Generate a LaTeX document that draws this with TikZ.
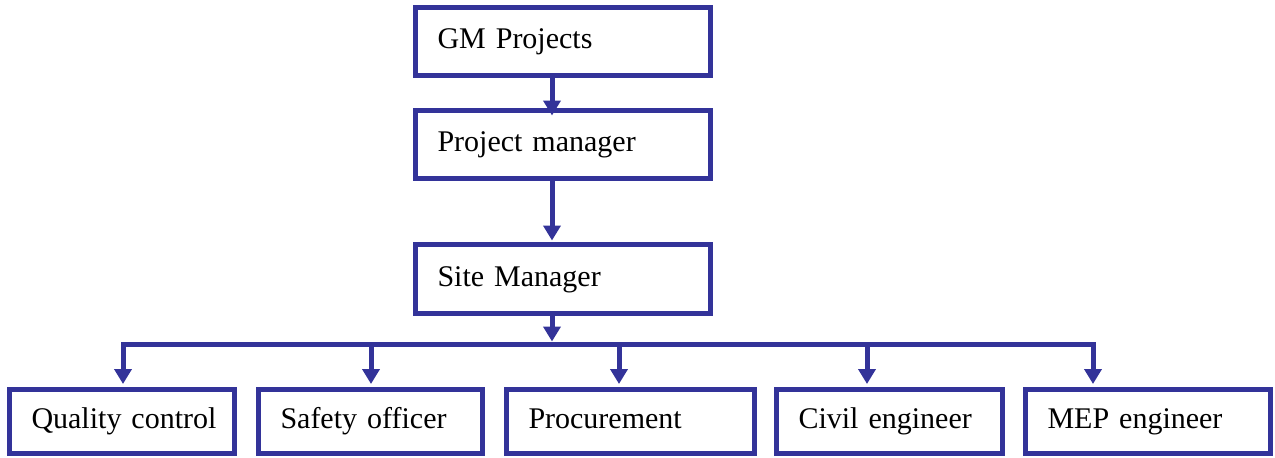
\documentclass[tikz,border=0pt]{standalone}
\usepackage{fontspec}
\setmainfont{Liberation Serif}
\usetikzlibrary{arrows.meta}
\definecolor{chartblue}{RGB}{51,51,153}

\begin{document}
\begin{tikzpicture}[x=1pt, y=-1pt,
    post/.style={draw=chartblue, line width=5pt, rectangle, fill=white,
        inner xsep=22pt, inner ysep=0pt, text width=#1, align=left,
        text height=20pt, text depth=6pt,
        font=\fontsize{30}{36}\selectfont},
    link/.style={draw=chartblue, line width=5pt,
        -{Triangle[width=17pt,length=15pt]}}]
    \useasboundingbox (0,0) rectangle (1275,458);
    % chain of command
    \node[post=251pt, minimum height=68pt] (gm) at (563,41.5) {GM Projects};
    \node[post=251pt, minimum height=68pt] (pm) at (563,144.5) {Project manager};
    \node[post=251pt, minimum height=69pt] (site) at (563,279) {Site Manager};
    % staff row
    \node[post=181pt, minimum height=64pt] (quality) at (122,421) {\mbox{Quality control}};
    \node[post=180pt, minimum height=64pt] (safety) at (370.5,421) {Safety officer};
    \node[post=204pt, minimum height=64pt] (proc) at (630.5,421) {Procurement};
    \node[post=182pt, minimum height=64pt] (civil) at (889.5,421) {Civil engineer};
    \node[post=201pt, minimum height=64pt] (mep) at (1148,421) {MEP engineer};
    \coordinate (hub) at (552,344);
    \coordinate (busL) at (123,344);
    \coordinate (busR) at (1093,344);
    \draw[link, shorten >=-7.5pt] (gm.south -| hub) -- (pm.north -| hub);
    \draw[link, shorten >=1.5pt] (pm.south -| hub) -- (site.north -| hub);
    \draw[link, shorten >=2.5pt] (site.south -| hub) -- (hub);
    \draw[link, {Triangle[width=17pt,length=15pt]}-{Triangle[width=17pt,length=15pt]},
        shorten <=2.5pt, shorten >=2.5pt]
        (quality.north -| busL) -- (busL) -- (busR) -- (mep.north -| busR);
    \foreach \n/\x in {safety/371, proc/619, civil/867} {
        \coordinate (tap-\n) at (\x,344);
        \draw[link, shorten >=2.5pt] (tap-\n) -- (\n.north -| tap-\n);
    }
\end{tikzpicture}
\end{document}
